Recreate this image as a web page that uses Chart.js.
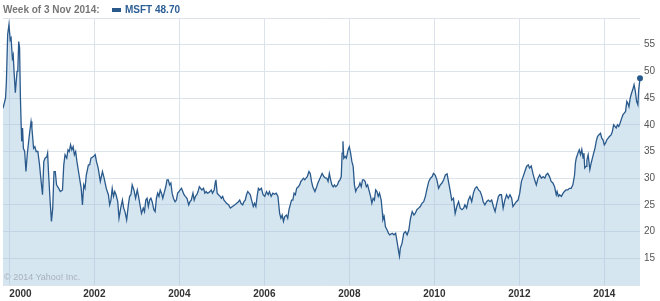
<!DOCTYPE html>
<html>
<head>
<meta charset="utf-8">
<script src="https://cdn.jsdelivr.net/npm/chart.js@4.4.0/dist/chart.umd.min.js"></script>
<style>
  body { margin: 0; background: #fff; }
  #wrap { position: relative; width: 660px; height: 301px; font-family: "Liberation Sans", Arial, sans-serif; }
  canvas { position: absolute; left: 0; top: 0; }
  .hd { position: absolute; top: 4px; font-size: 10px; font-weight: bold; line-height: normal; white-space: nowrap; }
  #title { left: 3px; color: #777; }
  #swatch { position: absolute; left: 112px; top: 8px; width: 9px; height: 4px; background: #2a5a8c; }
  #quote { left: 125px; color: #2d5f96; }
  #copy { position: absolute; left: 4px; top: 272px; font-size: 9px; color: #a7b1bb; white-space: nowrap; }
</style>
</head>
<body>
<div id="wrap">
  <canvas id="chart" width="660" height="301"></canvas>
  <div class="hd" id="title">Week of 3 Nov 2014:</div>
  <div id="swatch"></div>
  <div class="hd" id="quote">MSFT 48.70</div>
  <div id="copy">© 2014 Yahoo! Inc.</div>
</div>
<script>
// weekly closes (decimal year, price)
const weekDates = [
  1999.85,1999.91,1999.93,1999.96,1999.99,2000.02,2000.04,2000.07,2000.09,2000.11,2000.14,2000.18,2000.20,2000.22,2000.24,2000.26,2000.28,2000.29,2000.31,2000.33,2000.36,2000.39,2000.42,2000.47,2000.51,2000.53,2000.57,2000.60,2000.63,2000.67,2000.71,2000.74,2000.78,2000.81,2000.84,2000.88,2000.90,2000.92,2000.96,2000.99,
  2001.02,2001.05,2001.08,2001.11,2001.16,2001.20,2001.25,2001.28,2001.31,2001.35,2001.38,2001.41,2001.44,2001.47,2001.50,2001.53,2001.56,2001.59,2001.64,2001.69,2001.72,2001.75,2001.78,2001.81,2001.86,2001.89,2001.92,2001.97,
  2002.02,2002.05,2002.09,2002.14,2002.19,2002.23,2002.28,2002.33,2002.36,2002.39,2002.42,2002.45,2002.48,2002.51,2002.55,2002.58,2002.62,2002.66,2002.69,2002.72,2002.76,2002.80,2002.83,2002.86,2002.89,2002.93,2002.97,
  2003.01,2003.04,2003.08,2003.11,2003.15,2003.18,2003.21,2003.24,2003.27,2003.30,2003.33,2003.36,2003.40,2003.43,2003.46,2003.49,2003.52,2003.55,2003.58,2003.61,2003.65,2003.68,2003.71,2003.74,2003.77,2003.80,2003.83,2003.86,2003.90,2003.93,2003.96,2003.99,
  2004.02,2004.05,2004.08,2004.11,2004.14,2004.18,2004.22,2004.25,2004.28,2004.32,2004.35,2004.38,2004.41,2004.44,2004.47,2004.50,2004.53,2004.57,2004.60,2004.63,2004.66,2004.69,2004.72,2004.75,2004.78,2004.82,2004.85,2004.86,2004.89,2004.92,2004.96,2004.99,
  2005.02,2005.05,2005.08,2005.11,2005.16,2005.20,2005.25,2005.30,2005.35,2005.39,2005.42,2005.45,2005.49,2005.52,2005.55,2005.58,2005.61,2005.64,2005.67,2005.70,2005.74,2005.77,2005.80,2005.83,2005.86,2005.89,2005.93,2005.97,
  2006.01,2006.05,2006.09,2006.12,2006.16,2006.20,2006.24,2006.28,2006.32,2006.36,2006.39,2006.42,2006.45,2006.48,2006.52,2006.55,2006.58,2006.61,2006.64,2006.67,2006.70,2006.73,2006.76,2006.80,2006.83,2006.86,2006.89,2006.92,2006.95,2006.98,
  2007.01,2007.05,2007.08,2007.11,2007.14,2007.19,2007.22,2007.26,2007.31,2007.36,2007.40,2007.44,2007.47,2007.50,2007.53,2007.56,2007.59,2007.62,2007.65,2007.68,2007.72,2007.75,2007.78,2007.81,2007.83,2007.85,2007.87,2007.90,2007.93,2007.97,
  2008.00,2008.03,2008.06,2008.09,2008.12,2008.15,2008.18,2008.22,2008.25,2008.28,2008.31,2008.34,2008.37,2008.40,2008.43,2008.46,2008.50,2008.53,2008.56,2008.59,2008.62,2008.65,2008.68,2008.71,2008.75,2008.78,2008.79,2008.82,2008.85,2008.89,2008.92,2008.95,
  2009.01,2009.05,2009.09,2009.13,2009.16,2009.18,2009.20,2009.24,2009.28,2009.32,2009.36,2009.40,2009.44,2009.48,2009.52,2009.55,2009.59,2009.63,2009.67,2009.71,2009.75,2009.79,2009.83,2009.87,2009.91,2009.95,2009.98,
  2010.02,2010.06,2010.10,2010.14,2010.18,2010.22,2010.26,2010.30,2010.34,2010.37,2010.41,2010.45,2010.49,2010.53,2010.57,2010.61,2010.65,2010.69,2010.72,2010.76,2010.80,2010.84,2010.88,2010.92,2010.96,
  2011.00,2011.04,2011.08,2011.12,2011.15,2011.19,2011.23,2011.27,2011.31,2011.35,2011.39,2011.43,2011.47,2011.51,2011.54,2011.58,2011.62,2011.66,2011.70,2011.74,2011.78,2011.82,2011.85,2011.93,2011.97,
  2012.01,2012.05,2012.09,2012.13,2012.17,2012.21,2012.24,2012.28,2012.32,2012.36,2012.40,2012.44,2012.48,2012.52,2012.56,2012.60,2012.63,2012.67,2012.71,2012.75,2012.79,2012.83,2012.87,2012.89,2012.92,2012.95,2012.99,
  2013.03,2013.06,2013.10,2013.14,2013.18,2013.22,2013.26,2013.30,2013.32,2013.34,2013.38,2013.41,2013.44,2013.47,2013.50,2013.52,2013.54,2013.57,2013.59,2013.62,2013.66,2013.69,2013.72,2013.75,2013.78,2013.81,2013.84,2013.87,2013.91,2013.94,2013.97,
  2014.00,2014.03,2014.06,2014.09,2014.12,2014.16,2014.19,2014.22,2014.25,2014.28,2014.31,2014.34,2014.37,2014.41,2014.44,2014.47,2014.50,2014.53,2014.55,2014.58,2014.61,2014.64,2014.67,2014.70,2014.73,2014.76,2014.79,2014.81,2014.84
];
const closePrices = [
  43.1,45,48.1,56.9,58.75,55.9,56.25,52.5,53.1,50,46,50,50.6,55.6,54.4,45,39.4,36.9,39.4,35.6,35,31.25,34.4,38.1,40.6,39.4,35.6,35.9,35,35,32.5,30,26.9,33.1,33.75,34,34.7,31.25,25.6,21.9,
  24.4,31.25,31.25,28.75,28.1,27.5,27.8,32.5,34.4,33.75,35.3,35,36.25,35.3,35.9,34.4,35,33.1,30.6,28.1,25,28.75,28.1,30.6,32.5,32.5,33.75,34,
  34.4,33.1,31.9,29.4,31.25,30,28.1,26.9,25,25.9,28.1,26.6,27.5,26.9,25.6,22.5,24.4,25.9,24.4,23.75,22.2,25,26.6,26.9,28.75,27.8,26.25,
  27.8,26.6,24.7,23.4,24.4,23.75,25.9,26.25,24.7,25.9,26.25,25.6,24.1,23.75,26.25,27.2,26.6,27.8,27.2,26.25,27.5,28.4,29.7,29.7,28.75,29.1,27.2,26.25,25.6,25.9,27.2,27.5,
  27.8,28.1,27.5,26.9,26.6,26.25,25,25.6,25.9,27.2,25.9,26.6,26.9,27.5,28.4,28.1,27.8,28.1,27.2,27.5,27.2,27.3,27.5,27.8,27.2,27.8,29.4,29.7,27.2,26.9,26.6,26.25,
  26.6,25.9,25.6,25.3,25,24.4,24.7,25,25.3,25.6,25.9,25.3,25,25.6,25.9,26.9,27.5,27.2,26.9,25.9,24.7,25.3,24.7,26.6,28.1,27.8,28.1,26.9,
  26.6,27.5,26.9,27.5,26.6,27.2,27,27.2,26.6,23.4,22.5,23.1,21.9,22.8,23.1,22.5,24.1,25,25.9,25.9,27.2,26.9,28.1,28.4,28.75,29.4,29.7,30,29.7,30,
  30.3,31.25,30.9,29.4,28.4,27.5,28.1,29.1,30,30.9,30.3,30,30,29.4,30.9,29.7,28.75,28.4,28.75,28.4,28.75,29.4,29.7,30.3,34.7,36.9,33.75,34.1,33.75,35.3,
  35.9,34.7,33.1,32.2,28.75,27.5,28.1,28.4,29.1,28.4,29.7,29.7,29.4,28.4,28.75,27.8,26.6,25.3,26.25,25.9,27.8,27.5,26.6,27.2,25.9,23.4,22.2,22.8,20.9,20.3,19.7,19.4,
  19.7,19.4,19.7,17.8,16.25,15.4,16.9,17.8,19.7,20,19.4,20.3,22.5,23.75,23.1,23.4,24.1,24.4,24.7,25.3,25.6,26.6,28.1,29.4,30,30.3,30.9,
  30.6,29.7,28.1,28.75,29.1,29.7,30.6,30.8,29.1,27.8,25.9,26.25,23.4,24.7,25.6,24.4,24.1,24.4,25,24.4,25.9,26.6,25.6,27.2,28.1,
  28.4,27.8,27.5,26.6,25.6,25,25.6,25.9,25.6,25.9,24.7,23.75,25.3,26.6,26.9,26.9,24.4,25.9,26.9,26.25,26.9,26.25,24.7,25.6,25.9,
  27.2,29.4,30.3,31.25,32.2,32.5,31.9,32.3,30.9,29.7,28.75,30,30.6,30,30.3,30,30.6,30.9,30.3,29.4,29.1,28.4,26.9,27.5,26.6,26.9,26.6,
  27.2,27.5,27.8,27.8,28.1,28.1,28.75,30.6,32.8,33.75,34.7,35.3,34.4,35.4,33.75,34.7,31.9,32.2,33.4,34.4,31.6,32.8,33.75,34.7,35.6,36.9,37.8,38.1,38.4,37.5,37.2,
  36.25,36.6,37.2,37.5,37.8,38.1,38.75,40,39.7,39.4,40,39.7,40.3,41.25,41.9,42.2,42.5,44.4,44.1,43.4,45,45.9,46.6,47.5,46.25,44.4,43.75,46.6,48.7
];
const yearTicks = [2000, 2002, 2004, 2006, 2008, 2010, 2012, 2014];
const priceTicks = [15, 20, 25, 30, 35, 40, 45, 50, 55];
const xStart = 1999.85, xEnd = 2014.84;
const yMin = 10, yMax = 60;

const lineColor = '#2a5a8c';
const gridColor = '#dde3ea';

Chart.defaults.font.family = "'Liberation Sans', Arial, sans-serif";

const points = weekDates.map(function (d, i) { return { x: d, y: closePrices[i] }; });
const lastIdx = points.length - 1;

new Chart(document.getElementById('chart').getContext('2d'), {
  type: 'line',
  data: {
    datasets: [{
      data: points,
      borderColor: lineColor,
      borderWidth: 1.3,
      backgroundColor: 'rgba(152,192,220,0.4)',
      fill: 'start',
      tension: 0,
      clip: { left: 0, top: 0, right: 5, bottom: 0 },
      pointRadius: function (c) { return c.index === lastIdx ? 3 : 0; },
      pointBackgroundColor: lineColor,
      pointBorderWidth: 0,
      pointHoverRadius: 0
    }]
  },
  options: {
    responsive: false,
    animation: false,
    devicePixelRatio: 1,
    layout: { padding: { top: 18, left: 0, right: 0, bottom: 0 } },
    plugins: { legend: { display: false }, tooltip: { enabled: false } },
    scales: {
      x: {
        type: 'linear',
        min: xStart,
        max: xEnd,
        afterBuildTicks: function (s) {
          s.ticks = yearTicks.concat([xEnd]).map(function (v) { return { value: v }; });
        },
        afterFit: function (s) {
          s.height = 16;
          s.paddingLeft = 0;
          s.paddingRight = 0;
        },
        grid: {
          color: function (c) { return c.index === yearTicks.length ? 'rgba(0,0,0,0)' : gridColor; },
          drawTicks: false
        },
        border: { display: false },
        ticks: {
          align: 'inner',
          autoSkip: false,
          maxRotation: 0,
          padding: 3,
          color: '#333',
          font: { size: 10, weight: 'bold' },
          callback: function (v) { return yearTicks.includes(v) ? String(v) : ''; }
        }
      },
      y: {
        position: 'right',
        min: yMin,
        max: yMax,
        afterBuildTicks: function (s) {
          s.ticks = [yMin].concat(priceTicks, [yMax]).map(function (v) { return { value: v }; });
        },
        afterFit: function (s) { s.width = 20; },
        grid: { color: gridColor, drawTicks: false },
        border: { display: false },
        ticks: {
          padding: 4,
          color: '#555',
          font: { size: 10 },
          callback: function (v) { return priceTicks.includes(v) ? String(v) : ''; }
        }
      }
    }
  }
});
</script>
</body>
</html>
